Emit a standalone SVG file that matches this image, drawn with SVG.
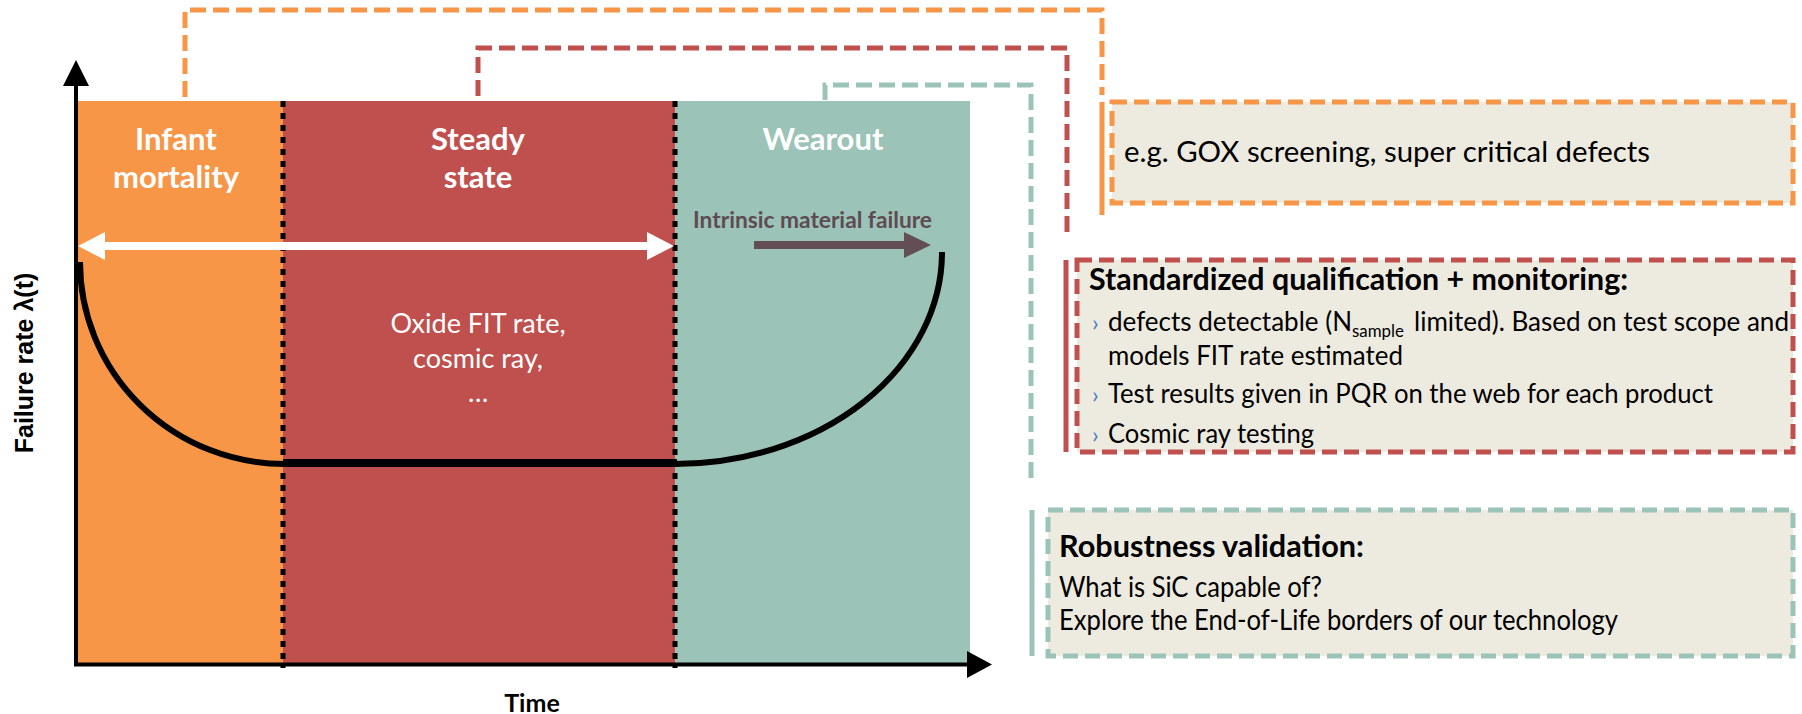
<svg xmlns="http://www.w3.org/2000/svg" width="1802" height="714" viewBox="0 0 1802 714">
<defs>
<style>
.t{font-family:Lato,"Open Sans","Liberation Sans",sans-serif}
.w{fill:#fff}
.b{font-weight:bold}
.k{fill:#000}
.dash{fill:none;stroke-width:5;stroke-dasharray:16 7}
.o{stroke:#F79646}
.r{stroke:#C0504D}
.g{stroke:#9BC3B7}
.box{fill:#EDEBE0;stroke-width:5;stroke-dasharray:15 7}
.solid{fill:none;stroke-width:5}
.dot{stroke:#000;stroke-width:5;stroke-dasharray:6 6;fill:none}
.bul{fill:#4F81BD}
</style>
</defs>
<rect width="1802" height="714" fill="#fff"/>

<g id="phase-infant">
<rect x="78" y="101" width="205" height="564" fill="#F79646"/>
<text class="t w b" font-size="31" text-anchor="middle" x="176" y="150">Infant</text>
<text class="t w b" font-size="31" text-anchor="middle" x="176" y="188">mortality</text>
</g>
<g id="phase-steady">
<rect x="283" y="101" width="392" height="564" fill="#C0504D"/>
<text class="t w b" font-size="31" text-anchor="middle" x="478" y="150">Steady</text>
<text class="t w b" font-size="31" text-anchor="middle" x="478" y="188">state</text>
<text class="t w" font-size="27" text-anchor="middle" x="478" y="333">Oxide FIT rate,</text>
<text class="t w" font-size="27" text-anchor="middle" x="478" y="368">cosmic ray,</text>
<text class="t w" font-size="27" text-anchor="middle" x="478" y="402">…</text>
</g>
<g id="phase-wearout">
<rect x="675" y="101" width="295" height="564" fill="#9BC3B7"/>
<text class="t w b" font-size="31" text-anchor="middle" x="823" y="150">Wearout</text>
<text class="t b" font-size="23" fill="#5F4B53" x="693" y="228" textLength="239" lengthAdjust="spacingAndGlyphs">Intrinsic material failure</text>
<polygon points="754,241 904,241 904,232 931,245 904,258 904,249 754,249" fill="#634E56"/>
</g>

<g id="boundaries">
<line class="dot" x1="283" y1="101" x2="283" y2="668"/>
<line class="dot" x1="675" y1="101" x2="675" y2="668"/>
</g>

<g id="span-arrow">
<polygon points="78,246 105,232 105,242 647,242 647,232 674,246 647,260 647,250 105,250 105,260" fill="#fff"/>
</g>

<g id="bathtub-curve" fill="none" stroke="#000">
<path d="M 80 262 A 205 202 0 0 0 285 464" stroke-width="6"/>
<line x1="283" y1="463" x2="677" y2="463" stroke-width="8"/>
<path d="M 675 464 A 267 212 0 0 0 942 252" stroke-width="6"/>
</g>

<g id="axes">
<line x1="76" y1="84" x2="76" y2="666" stroke="#000" stroke-width="4"/>
<polygon points="76,60 63,86 89,86" fill="#000"/>
<line x1="74" y1="664.5" x2="969" y2="664.5" stroke="#000" stroke-width="4"/>
<polygon points="992,664.5 967,651 967,678" fill="#000"/>
<text font-family="'Liberation Sans',Arial,sans-serif" font-weight="bold" font-size="25" text-anchor="middle" transform="translate(33 363) rotate(-90)">Failure rate λ(t)</text>
<text class="t b k" font-size="25" text-anchor="middle" x="532" y="712">Time</text>
</g>

<g id="connectors">
<path class="dash o" d="M 185 97 V 10 H 1102 V 95"/>
<path class="dash r" d="M 478 96 V 48 H 1067 V 232"/>
<path class="dash g" d="M 825 100 V 85 H 1031 V 480"/>
<path class="solid o" stroke="#F79646" d="M 1102 102 V 215"/>
<path class="solid r" stroke="#C0504D" d="M 1066 260 V 452"/>
<path class="solid g" stroke="#9BC3B7" d="M 1032 510 V 656"/>
</g>

<g id="box-infant">
<rect class="box o" x="1112" y="102" width="681" height="101"/>
<text class="t k" font-size="28" x="1124" y="162" textLength="526" lengthAdjust="spacingAndGlyphs">e.g. GOX screening, super critical defects</text>
</g>

<g id="box-steady">
<rect class="box r" x="1077" y="260" width="716" height="192"/>
<text class="t b k" font-size="30" x="1089" y="290" textLength="539" lengthAdjust="spacingAndGlyphs">Standardized qualification + monitoring:</text>
<text class="t bul" font-size="24" x="1092" y="331">›</text>
<text class="t k" font-size="26" x="1108" y="331" textLength="244" lengthAdjust="spacingAndGlyphs">defects detectable (N</text>
<text class="t k" font-size="17" x="1352" y="337" textLength="52" lengthAdjust="spacingAndGlyphs">sample</text>
<text class="t k" font-size="26" x="1414" y="331" textLength="375" lengthAdjust="spacingAndGlyphs">limited). Based on test scope  and</text>
<text class="t k" font-size="26" x="1108" y="365" textLength="295" lengthAdjust="spacingAndGlyphs">models  FIT rate estimated</text>
<text class="t bul" font-size="24" x="1092" y="403">›</text>
<text class="t k" font-size="26" x="1108" y="403" textLength="605" lengthAdjust="spacingAndGlyphs">Test results given in PQR on the web for each product</text>
<text class="t bul" font-size="24" x="1092" y="443">›</text>
<text class="t k" font-size="26" x="1108" y="443" textLength="206" lengthAdjust="spacingAndGlyphs">Cosmic  ray testing</text>
</g>

<g id="box-wearout">
<rect class="box g" x="1048" y="510" width="745" height="146"/>
<text class="t b k" font-size="30" x="1059" y="557" textLength="305" lengthAdjust="spacingAndGlyphs">Robustness validation:</text>
<text class="t k" font-size="28" x="1059" y="597" textLength="263" lengthAdjust="spacingAndGlyphs">What is SiC capable of?</text>
<text class="t k" font-size="28" x="1059" y="630" textLength="559" lengthAdjust="spacingAndGlyphs">Explore the End-of-Life  borders of our technology</text>
</g>
</svg>
